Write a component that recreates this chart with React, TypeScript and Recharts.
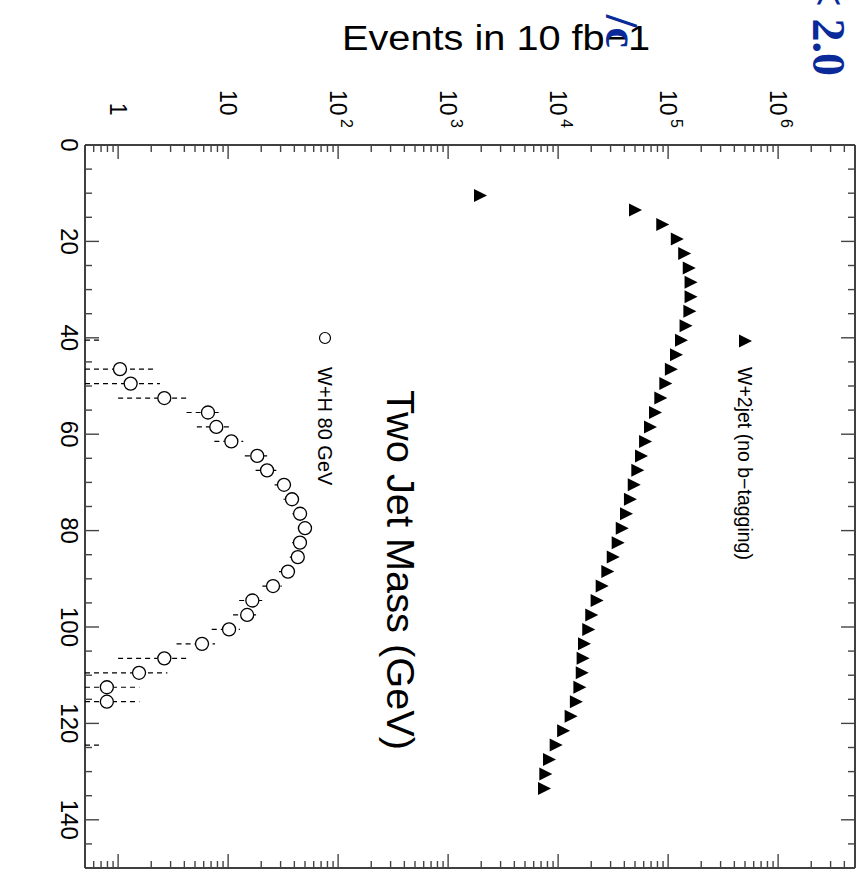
import { ErrorBar, Scatter, ScatterChart, XAxis, YAxis } from 'recharts'

const W = 867
const H = 876

// axis ticks
const decades = [1, 10, 100, 1000, 10000, 100000, 1000000]
const massMajor = [0, 20, 40, 60, 80, 100, 120, 140]
const massTicks = Array.from({ length: 31 }, (_, i) => i * 5)
const logTicks = [0.6, 0.7, 0.8, 0.9]
decades.forEach((d) => {
  for (let k = 1; k <= 9; k++) if (d * k <= 5e6) logTicks.push(d * k)
})
const eventsMin = 0.5
const eventsMax = 5e6

// W+2jet (no b-tagging), 3 GeV bins
const wjjMass = [
  10.5, 13.5, 16.5, 19.5, 22.5, 25.5, 28.5, 31.5, 34.5, 37.5, 40.5, 43.5, 46.5, 49.5,
  52.5, 55.5, 58.5, 61.5, 64.5, 67.5, 70.5, 73.5, 76.5, 79.5, 82.5, 85.5, 88.5, 91.5,
  94.5, 97.5, 100.5, 103.5, 106.5, 109.5, 112.5, 115.5, 118.5, 121.5, 124.5, 127.5, 130.5, 133.5,
]
const wjjEvents = [
  1950, 50000, 88500, 120000, 140000, 154000, 160000, 160000, 156000, 144000, 131000, 118000,
  106000, 94300, 84900, 76000, 68400, 61700, 56700, 52500, 48700, 45000, 41400, 37900, 34800,
  31400, 28000, 24900, 22400, 20000, 18800, 17200, 16700, 16400, 15600, 14500, 13000, 11100,
  9500, 8260, 7650, 7440,
]

// W+H 80 GeV, with ends of the error bars
const whMass = [
  40.5, 46.5, 49.5, 52.5, 55.5, 58.5, 61.5, 64.5, 67.5, 70.5, 73.5, 76.5, 79.5, 82.5, 85.5,
  88.5, 91.5, 94.5, 97.5, 100.5, 103.5, 106.5, 109.5, 112.5, 115.5, 124.5,
]
const whEvents = [
  0.34, 1.04, 1.3, 2.63, 6.56, 7.81, 10.7, 18.4, 22.6, 32.2, 38.1, 45.1, 50, 45, 43, 35, 25.6,
  16.6, 14.9, 10.2, 5.79, 2.63, 1.55, 0.79, 0.79, 0.34,
]
const whLow = [
  0.1, 0.1, 0.1, 1.0, 4.2, 5.2, 7.5, 14.2, 17.8, 26.5, 31.9, 38.4, 43, 38.3, 36.4, 29, 20.5,
  12.6, 11.1, 7.1, 3.4, 1.0, 0.3, 0.1, 0.1, 0.1,
]
const whHigh = [
  0.68, 2.09, 2.4, 4.2, 8.4, 10.3, 13.7, 22.6, 27.4, 37.9, 44.3, 51.8, 57, 51.7, 49.6, 41, 30.7,
  20.6, 18.7, 12.8, 7.6, 4.2, 2.8, 1.56, 1.56, 0.68,
]

const wjjData = wjjMass.map((m, i) => ({ mass: m, events: wjjEvents[i] }))
// error bars are cut at the frame, like the plot's own clipping
const whData = whMass.map((m, i) => ({
  mass: m,
  events: whEvents[i],
  err: [whEvents[i] - Math.max(whLow[i], eventsMin), whHigh[i] - whEvents[i]],
}))

const font = '"Liberation Sans", Arial, sans-serif'
const tickColor = '#444'

const isDecade = (v: number) => Math.abs(Math.log10(v) - Math.round(Math.log10(v))) < 1e-6

function TopTick({ x, y, payload }: any) {
  const v = payload.value
  const major = isDecade(v)
  const n = Math.round(Math.log10(v))
  return (
    <g>
      <line x1={x} y1={y} x2={x} y2={y + (major ? 14 : 7)} stroke={tickColor} strokeWidth={1.4} />
      {major && (
        <g fontFamily={font} fill="#000">
          <text
            x={x}
            y={115.5}
            transform={`rotate(90 ${x} 115.5)`}
            textAnchor="end"
            dominantBaseline="central"
            fontSize={23}
          >
            {n === 0 ? '1' : '10'}
          </text>
          {n >= 2 && (
            <text
              x={x + 8}
              y={119}
              transform={`rotate(90 ${x + 8} 119)`}
              textAnchor="start"
              dominantBaseline="central"
              fontSize={16}
            >
              {n}
            </text>
          )}
        </g>
      )}
    </g>
  )
}

function BottomTick({ x, y, payload }: any) {
  const major = isDecade(payload.value)
  return <line x1={x} y1={y} x2={x} y2={y - (major ? 14 : 7)} stroke={tickColor} strokeWidth={1.4} />
}

function LeftTick({ x, y, payload }: any) {
  const v = payload.value
  const major = massMajor.includes(v)
  return (
    <g>
      <line x1={x} y1={y} x2={x + (major ? 14 : 7)} y2={y} stroke={tickColor} strokeWidth={1.4} />
      {major && (
        <text
          x={69}
          y={y}
          transform={`rotate(90 69 ${y})`}
          textAnchor="middle"
          dominantBaseline="central"
          fontFamily={font}
          fontSize={24}
        >
          {v}
        </text>
      )}
    </g>
  )
}

function RightTick({ x, y, payload }: any) {
  const major = massMajor.includes(payload.value)
  return <line x1={x} y1={y} x2={x - (major ? 14 : 7)} y2={y} stroke={tickColor} strokeWidth={1.4} />
}

const Triangle = (p: any) => (
  <polygon points={`${p.cx - 6},${p.cy - 6.5} ${p.cx + 7},${p.cy} ${p.cx - 6},${p.cy + 6.5}`} fill="#000" />
)
const Ring = (p: any) => <circle cx={p.cx} cy={p.cy} r={6.5} fill="#fff" stroke="#000" strokeWidth={1.3} />

const axisLine = { stroke: '#000', strokeWidth: 1.5 }

export default function App() {
  return (
    <div style={{ position: 'absolute', left: 0, top: 0, width: W, height: H, background: '#fff' }}>
      <ScatterChart width={W} height={H} margin={{ top: 0, right: 0, bottom: 0, left: 0 }}>
        <XAxis
          xAxisId="top"
          orientation="top"
          type="number"
          dataKey="events"
          scale="log"
          domain={[eventsMin, eventsMax]}
          allowDataOverflow
          ticks={logTicks}
          interval={0}
          height={145}
          tickSize={0}
          tickMargin={0}
          tickLine={false}
          axisLine={axisLine}
          tick={(p: any) => <TopTick {...p} />}
        />
        <XAxis
          xAxisId="bottom"
          orientation="bottom"
          type="number"
          dataKey="events"
          scale="log"
          domain={[eventsMin, eventsMax]}
          allowDataOverflow
          ticks={logTicks}
          interval={0}
          height={8}
          tickSize={0}
          tickMargin={0}
          tickLine={false}
          axisLine={axisLine}
          tick={(p: any) => <BottomTick {...p} />}
        />
        <YAxis
          yAxisId="left"
          orientation="left"
          type="number"
          dataKey="mass"
          domain={[0, 150]}
          allowDataOverflow
          reversed
          ticks={massTicks}
          interval={0}
          width={85}
          tickSize={0}
          tickMargin={0}
          tickLine={false}
          axisLine={axisLine}
          tick={(p: any) => <LeftTick {...p} />}
        />
        <YAxis
          yAxisId="right"
          orientation="right"
          type="number"
          dataKey="mass"
          domain={[0, 150]}
          allowDataOverflow
          reversed
          ticks={massTicks}
          interval={0}
          width={12}
          tickSize={0}
          tickMargin={0}
          tickLine={false}
          axisLine={axisLine}
          tick={(p: any) => <RightTick {...p} />}
        />
        <Scatter
          xAxisId="top"
          yAxisId="left"
          data={wjjData}
          shape={Triangle}
          isAnimationActive={false}
        />
        <Scatter xAxisId="top" yAxisId="left" data={whData} shape={Ring} isAnimationActive={false}>
          <ErrorBar
            dataKey="err"
            direction="x"
            width={0}
            stroke="#000"
            strokeWidth={1.2}
            strokeDasharray="5 4"
            isAnimationActive={false}
          />
        </Scatter>
        <Scatter xAxisId="bottom" yAxisId="right" data={[]} isAnimationActive={false} />
      </ScatterChart>

      <svg
        width={W}
        height={H}
        style={{ position: 'absolute', left: 0, top: 0, pointerEvents: 'none' }}
        fontFamily={font}
      >
        <text x={496} y={50} textAnchor="middle" fontSize={35} textLength={308} lengthAdjust="spacingAndGlyphs">
          Events in 10 fb−1
        </text>
        <text
          x={400}
          y={570}
          transform="rotate(90 400 570)"
          textAnchor="middle"
          dominantBaseline="central"
          fontSize={38}
          textLength={360}
          lengthAdjust="spacingAndGlyphs"
        >
          Two Jet Mass (GeV)
        </text>

        <polygon points="739,334.5 752,341 739,347.5" fill="#000" />
        <text x={745} y={367} transform="rotate(90 745 367)" dominantBaseline="central" fontSize={19.5}>
          W+2jet (no b−tagging)
        </text>
        <circle cx={325} cy={338} r={5.5} fill="#fff" stroke="#000" strokeWidth={1.2} />
        <text x={325} y={367} transform="rotate(90 325 367)" dominantBaseline="central" fontSize={20}>
          W+H 80 GeV
        </text>

        <g fontFamily='"Liberation Serif", serif' fontWeight="bold" fill="#0a2a9a">
          <text x={828} y={76} transform="rotate(90 828 76)" textAnchor="end" dominantBaseline="central" fontSize={46}>
            {'< 2.0'}
          </text>
          <text x={621} y={48} transform="rotate(90 621 48)" textAnchor="end" dominantBaseline="central" fontSize={46}>
            /c
          </text>
        </g>
      </svg>
    </div>
  )
}
